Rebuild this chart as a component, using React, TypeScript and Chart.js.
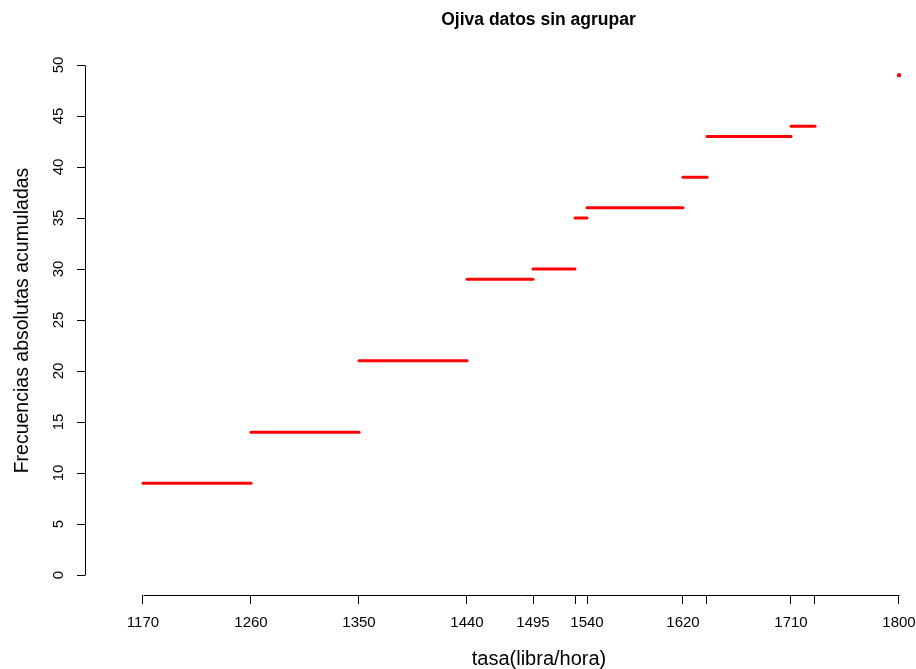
import React, { useEffect, useRef } from 'react';
import { Chart, registerables } from 'chart.js';

Chart.register(...registerables);

const TITLE = 'Ojiva datos sin agrupar';
const X_TITLE = 'tasa(libra/hora)';
const Y_TITLE = 'Frecuencias absolutas acumuladas';

// Step segments of the ogive: [start, end) at cumulative frequency
const segStart = [1170, 1260, 1350, 1440, 1495, 1530, 1540, 1620, 1640, 1710, 1800];
const segEnd = [1260, 1350, 1440, 1495, 1530, 1540, 1620, 1640, 1710, 1730, 1800];
const cumFreq = [9, 14, 21, 29, 30, 35, 36, 39, 43, 44, 49];

const xTicks = [1170, 1260, 1350, 1440, 1495, 1530, 1540, 1620, 1640, 1710, 1730, 1800];
const xTickLabels = ['1170', '1260', '1350', '1440', '1495', '', '1540', '1620', '', '1710', '', '1800'];
const yTicks = [0, 5, 10, 15, 20, 25, 30, 35, 40, 45, 50];

const FONT = '"Liberation Sans", Arial, Helvetica, sans-serif';

const decorPlugin = {
  id: 'decor',
  afterDraw(chart: any) {
    const { ctx, chartArea, scales } = chart;
    const xs = scales.x;
    const ys = scales.y;
    ctx.save();
    ctx.strokeStyle = '#000';
    ctx.lineWidth = 1;
    ctx.lineCap = 'butt';
    const yb = Math.round(chartArea.bottom) + 0.5;
    const xl = Math.round(chartArea.left) + 0.5;
    ctx.beginPath();
    ctx.moveTo(Math.round(xs.getPixelForValue(xTicks[0])) + 0.5, yb);
    ctx.lineTo(Math.round(xs.getPixelForValue(xTicks[xTicks.length - 1])) + 0.5, yb);
    ctx.moveTo(xl, Math.round(ys.getPixelForValue(yTicks[0])) + 0.5);
    ctx.lineTo(xl, Math.round(ys.getPixelForValue(yTicks[yTicks.length - 1])) + 0.5);
    ctx.stroke();

    ctx.fillStyle = '#000';
    // main title
    ctx.font = `bold 17.5px ${FONT}`;
    ctx.textAlign = 'center';
    ctx.textBaseline = 'alphabetic';
    ctx.fillText(TITLE, 538.5, 25);
    // x title
    ctx.font = `20px ${FONT}`;
    ctx.fillText(X_TITLE, 539, 665);
    // y title
    ctx.translate(28, 320.5);
    ctx.rotate(-Math.PI / 2);
    ctx.font = `19.5px ${FONT}`;
    ctx.fillText(Y_TITLE, 0, 0);
    ctx.restore();
  },
};

export default function App() {
  const ref = useRef<HTMLCanvasElement | null>(null);

  useEffect(() => {
    if (!ref.current) return;
    const datasets = segStart.map((s, i) => ({
      data: [
        { x: s, y: cumFreq[i] },
        { x: segEnd[i], y: cumFreq[i] },
      ],
      borderColor: '#ff0000',
      backgroundColor: '#ff0000',
      borderWidth: 3,
      borderCapStyle: 'round' as const,
      pointRadius: s === segEnd[i] ? 2 : 0,
      pointBorderWidth: 0,
      clip: false as any,
      tension: 0,
    }));

    const chart = new Chart(ref.current, {
      type: 'line',
      data: { datasets },
      plugins: [decorPlugin],
      options: {
        animation: false,
        responsive: false,
        maintainAspectRatio: false,
        layout: { padding: { top: 40, right: 6, left: 0, bottom: 0 } },
        plugins: { legend: { display: false }, tooltip: { enabled: false }, title: { display: false } },
        scales: {
          x: {
            type: 'linear',
            min: 1170 - 58 / 1.2,
            max: 1170 - 58 / 1.2 + 825 / 1.2,
            afterBuildTicks: (s: any) => {
              s.ticks = xTicks.map((v) => ({ value: v }));
            },
            afterFit: (s: any) => {
              s.height = 74;
              s.paddingLeft = 0;
              s.paddingRight = 0;
              s.paddingTop = 0;
              s.paddingBottom = 0;
            },
            border: { display: false },
            grid: { drawOnChartArea: false, drawTicks: true, tickLength: 9, color: '#000', lineWidth: 1 },
            ticks: {
              autoSkip: false,
              maxRotation: 0,
              minRotation: 0,
              padding: 10,
              color: '#000',
              font: { family: FONT, size: 15 },
              callback: (v: any) => {
                const i = xTicks.indexOf(Number(v));
                return i >= 0 ? xTickLabels[i] : '';
              },
            },
          },
          y: {
            type: 'linear',
            min: -20 / 10.2,
            max: -20 / 10.2 + 555 / 10.2,
            afterBuildTicks: (s: any) => {
              s.ticks = yTicks.map((v) => ({ value: v }));
            },
            afterFit: (s: any) => {
              s.width = 85;
              s.paddingLeft = 0;
              s.paddingRight = 0;
              s.paddingTop = 0;
              s.paddingBottom = 0;
            },
            border: { display: false },
            grid: { drawOnChartArea: false, drawTicks: true, tickLength: 8, color: '#000', lineWidth: 1 },
            ticks: {
              autoSkip: false,
              minRotation: 90,
              maxRotation: 90,
              crossAlign: 'center',
              padding: 10,
              color: '#000',
              font: { family: FONT, size: 15 },
              callback: (v: any) => String(v),
            },
          },
        },
      } as any,
    });
    return () => chart.destroy();
  }, []);

  return (
    <canvas
      ref={ref}
      width={916}
      height={669}
      style={{ position: 'absolute', left: 0, top: 0, width: 916, height: 669, display: 'block', background: '#fff' }}
    />
  );
}
